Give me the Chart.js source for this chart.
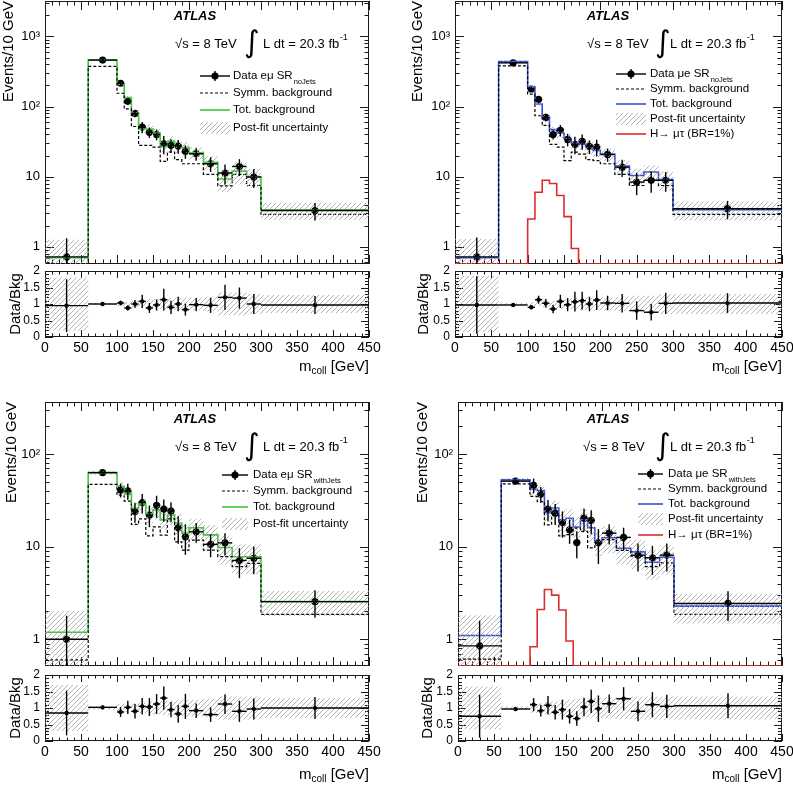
<!DOCTYPE html>
<html>
<head>
<meta charset="utf-8">
<script src="https://cdn.jsdelivr.net/npm/chart.js@4.4.1/dist/chart.umd.min.js"></script>
<style>
  body { margin: 0; background: #fff; }
  #page { position: relative; width: 793px; height: 786px; overflow: hidden; background: #fff; }
  #page canvas { position: absolute; }
</style>
</head>
<body>
<div id="page"></div>
<script>
/** Bins in m_coll [GeV]. */
const binEdges = [0, 60, 100, 110, 120, 130, 140, 150, 160, 170, 180, 190, 200, 220, 240, 260, 280, 300, 450];
const binCenters = [30, 80, 105, 115, 125, 135, 145, 155, 165, 175, 185, 195, 210, 230, 250, 270, 290, 375];

/** Tick values and labels. */
const xTicks = [0, 50, 100, 150, 200, 250, 300, 350, 400, 450];
const topLogTicks = [1, 10, 100, 1000];
const topLogLabels = ['1', '10', '10²', '10³'];
const bottomLogTicks = [1, 10, 100];
const bottomLogLabels = ['1', '10', '10²'];
const ratioTicks = [0, 0.5, 1, 1.5, 2];
const ratioLabels = ['0', '0.5', '1', '1.5', '2'];

/** e-mu SR noJets. */
const emNoJetsData = [0.72, 460, 215, 119, 80, 51, 43, 40, 29.5, 28, 27.3, 23, 21.2, 15.3, 11.3, 14, 9.9, 3.3];
const emNoJetsTot = [0.70, 462, 212, 135, 81, 48, 48, 42, 27, 32, 27, 26, 22, 16, 9.3, 12, 10, 3.35];
const emNoJetsSymm = [0.5, 375, 155, 93, 52, 28, 28, 26.5, 16.5, 22.5, 17.5, 15.3, 15.3, 10.8, 7.4, 10.8, 7.5, 2.9];
const emNoJetsUnc = [0.8, 0.03, 0.06, 0.06, 0.1, 0.1, 0.15, 0.15, 0.18, 0.18, 0.2, 0.2, 0.2, 0.22, 0.35, 0.35, 0.3, 0.27];
const emNoJetsRatio = [0.95, 1.0, 1.03, 0.88, 1.0, 1.08, 0.88, 0.97, 1.13, 0.9, 1.0, 0.83, 0.98, 0.96, 1.2, 1.18, 1.0, 0.97];
const emNoJetsRatioErr = [0.8, 0.03, 0.07, 0.08, 0.12, 0.2, 0.15, 0.17, 0.33, 0.2, 0.22, 0.18, 0.2, 0.23, 0.38, 0.32, 0.3, 0.27];

/** mu-e SR noJets. */
const meNoJetsData = [0.72, 420, 178, 127, 70, 40, 46, 34, 29, 32, 27, 26.5, 20.8, 13.7, 8.4, 8.9, 8.9, 3.5];
const meNoJetsTot = [0.70, 437, 192, 109, 70, 47, 42, 35, 30, 29, 26.5, 23.7, 20.8, 14.2, 10.4, 11.7, 9.1, 3.4];
const meNoJetsSymm = [0.5, 380, 151, 74, 54, 29, 26.5, 17, 22.4, 21, 17.5, 17, 15.3, 10.8, 7.5, 8.9, 7.5, 2.9];
const meNoJetsSignal = [0, 0, 2.5, 6, 8.9, 8, 5.4, 2.7, 0.95, 0, 0, 0, 0, 0, 0, 0, 0, 0];
const meNoJetsUnc = [0.85, 0.03, 0.05, 0.05, 0.1, 0.1, 0.15, 0.15, 0.18, 0.18, 0.2, 0.2, 0.2, 0.22, 0.25, 0.25, 0.3, 0.3];
const meNoJetsRatio = [0.97, 0.97, 0.9, 1.13, 1.02, 0.85, 1.08, 0.98, 1.07, 1.1, 1.0, 1.12, 1.03, 1.02, 0.8, 0.75, 1.02, 1.03];
const meNoJetsRatioErr = [0.87, 0.03, 0.06, 0.12, 0.13, 0.13, 0.2, 0.2, 0.3, 0.27, 0.22, 0.3, 0.22, 0.28, 0.28, 0.25, 0.32, 0.3];

/** e-mu SR withJets. */
const emJetsData = [1.0, 63, 41, 40, 24, 30, 22, 28, 25.5, 24.3, 16, 12.8, 14.5, 10.6, 11, 7.1, 7.5, 2.55];
const emJetsTot = [1.19, 63, 45, 38, 26, 29, 22.5, 25, 19.5, 22, 18, 14, 16, 13.4, 9.8, 7.8, 7.8, 2.55];
const emJetsSymm = [0.6, 47, 36, 31, 17.4, 20, 13.1, 16.4, 13.3, 20, 11.3, 9.2, 11.8, 9.2, 7.8, 6.1, 6.6, 1.86];
const emJetsUnc = [0.7, 0.05, 0.12, 0.12, 0.15, 0.15, 0.2, 0.2, 0.22, 0.22, 0.25, 0.25, 0.25, 0.28, 0.35, 0.35, 0.35, 0.3];
const emJetsRatio = [0.85, 1.02, 0.88, 1.02, 0.9, 1.05, 1.03, 1.12, 1.3, 0.95, 0.82, 1.05, 0.92, 0.8, 1.12, 0.9, 0.97, 1.0];
const emJetsRatioErr = [0.68, 0.06, 0.15, 0.2, 0.22, 0.25, 0.27, 0.3, 0.35, 0.23, 0.27, 0.38, 0.22, 0.22, 0.3, 0.32, 0.32, 0.33];

/** mu-e SR withJets. */
const meJetsData = [0.85, 51, 46, 37, 25.4, 23, 18.3, 15.2, 11.1, 20.3, 19.2, 11, 14, 12.6, 8.1, 7.6, 8.1, 2.44];
const meJetsTot = [1.1, 52.6, 41.7, 40.5, 23.3, 26.2, 19.5, 20.3, 16.3, 19.7, 16, 11.3, 12.5, 9.6, 8.8, 6.8, 7.7, 2.28];
const meJetsSymm = [0.61, 47.6, 35, 30.7, 17.2, 23, 13.1, 13.5, 15.9, 14.6, 9.7, 11.4, 11.9, 9.1, 7.9, 6.1, 6.7, 1.86];
const meJetsSignal = [0, 0, 0.83, 2.1, 3.45, 3.0, 2.07, 0.96, 0, 0, 0, 0, 0, 0, 0, 0, 0, 0];
const meJetsUnc = [0.65, 0.05, 0.15, 0.15, 0.2, 0.2, 0.25, 0.25, 0.28, 0.28, 0.3, 0.3, 0.32, 0.33, 0.35, 0.35, 0.35, 0.35];
const meJetsRatio = [0.75, 0.97, 1.1, 0.92, 1.08, 0.87, 0.95, 0.75, 0.68, 1.03, 1.2, 0.98, 1.13, 1.28, 0.9, 1.1, 1.05, 1.07];
const meJetsRatioErr = [0.65, 0.06, 0.2, 0.18, 0.28, 0.22, 0.3, 0.22, 0.22, 0.28, 0.35, 0.4, 0.28, 0.35, 0.3, 0.38, 0.35, 0.38];

const GREEN = '#3fc63a';
const BLUE = '#3650d8';
const RED = '#dd2c2c';
const FONT = '"Liberation Sans", Arial, Helvetica, sans-serif';

/** Spare room round each chart area so Chart.js keeps the area where we put it. */
const MARGIN = 22;

/** Panel layout (page pixels). */
const panels = [
  {
    left: 0, width: 396, top: 0, mainH: 266, ratioH: 134,
    areaL: 45, areaR: 369, areaT: 1, areaB: 264, rAreaT: 271, rAreaB: 337,
    yMin: 0.57, yMax: 3200, logTicks: topLogTicks, logLabels: topLogLabels,
    titlePad: 0, rTitlePad: 7, xTitleY: 367,
    data: emNoJetsData, tot: emNoJetsTot, symm: emNoJetsSymm, unc: emNoJetsUnc,
    ratio: emNoJetsRatio, ratioErr: emNoJetsRatioErr, color: GREEN,
    atlas: [195, 16], energy: [175, 244, 263, 44],
    legend: { x0: 200, x1: 230, tx: 233, rows: [76, 93, 110, 128] },
    legendText: ['Data eμ SR', 'noJets'],
  },
  {
    left: 396, width: 397, top: 0, mainH: 266, ratioH: 134,
    areaL: 455, areaR: 782, areaT: 1, areaB: 264, rAreaT: 271, rAreaB: 337,
    yMin: 0.57, yMax: 3200, logTicks: topLogTicks, logLabels: topLogLabels,
    titlePad: 13, rTitlePad: 19, xTitleY: 367,
    data: meNoJetsData, tot: meNoJetsTot, symm: meNoJetsSymm, unc: meNoJetsUnc, signal: meNoJetsSignal,
    ratio: meNoJetsRatio, ratioErr: meNoJetsRatioErr, color: BLUE,
    atlas: [212, 16], energy: [191, 259, 274, 44],
    legend: { x0: 220, x1: 250, tx: 254, rows: [74, 89, 104, 119, 134] },
    legendText: ['Data μe SR', 'noJets'],
  },
  {
    left: 0, width: 396, top: 400, mainH: 268, ratioH: 118,
    areaL: 45, areaR: 369, areaT: 402, areaB: 666, rAreaT: 675, rAreaB: 741,
    yMin: 0.515, yMax: 365, logTicks: bottomLogTicks, logLabels: bottomLogLabels,
    titlePad: 3, rTitlePad: 7, xTitleY: 775,
    data: emJetsData, tot: emJetsTot, symm: emJetsSymm, unc: emJetsUnc,
    ratio: emJetsRatio, ratioErr: emJetsRatioErr, color: GREEN,
    atlas: [195, 19], energy: [175, 244, 263, 47],
    legend: { x0: 222, x1: 248, tx: 253, rows: [75, 91, 107, 124] },
    legendText: ['Data eμ SR', 'withJets'],
  },
  {
    left: 396, width: 397, top: 400, mainH: 268, ratioH: 118,
    areaL: 458, areaR: 782, areaT: 402, areaB: 666, rAreaT: 675, rAreaB: 741,
    yMin: 0.515, yMax: 365, logTicks: bottomLogTicks, logLabels: bottomLogLabels,
    titlePad: 18, rTitlePad: 23, xTitleY: 775,
    data: meJetsData, tot: meJetsTot, symm: meJetsSymm, unc: meJetsUnc, signal: meJetsSignal,
    ratio: meJetsRatio, ratioErr: meJetsRatioErr, color: BLUE,
    atlas: [212, 19], energy: [187, 259, 274, 47],
    legend: { x0: 242, x1: 267, tx: 272, rows: [74, 89, 104, 119, 135] },
    legendText: ['Data μe SR', 'withJets'],
  },
];

/** Hatch pattern for the uncertainty band. */
function makeHatch() {
  const c = document.createElement('canvas');
  c.width = 5; c.height = 5;
  const g = c.getContext('2d');
  g.strokeStyle = '#a0a0a0';
  g.lineWidth = 0.8;
  g.beginPath();
  g.moveTo(-1, 6); g.lineTo(6, -1);
  g.moveTo(-1, 1); g.lineTo(1, -1);
  g.moveTo(4, 6); g.lineTo(6, 4);
  g.stroke();
  return g.createPattern(c, 'repeat');
}
const hatch = makeHatch();

/** Histogram points at left bin edges, closed at the last edge. */
function steps(vals) {
  const pts = vals.map((v, i) => ({ x: binEdges[i], y: v }));
  pts.push({ x: binEdges[binEdges.length - 1], y: vals[vals.length - 1] });
  return pts;
}

function newCanvas(left, top, w, h) {
  const c = document.createElement('canvas');
  c.width = w; c.height = h;
  c.style.left = left + 'px';
  c.style.top = top + 'px';
  c.style.width = w + 'px';
  c.style.height = h + 'px';
  document.getElementById('page').appendChild(c);
  return c;
}

function strokeLine(ctx, x0, y0, x1, y1) {
  ctx.beginPath();
  ctx.moveTo(x0, y0);
  ctx.lineTo(x1, y1);
  ctx.stroke();
}

/** Frame with inward ticks on all four sides, drawn under the histograms. */
function framePlugin(opts) {
  return {
    id: 'rootFrame',
    beforeDatasetsDraw(chart) {
      const { ctx, chartArea: a, scales: { x, y } } = chart;
      ctx.save();
      ctx.strokeStyle = '#1a1a1a';
      ctx.lineWidth = 1;
      ctx.strokeRect(Math.round(a.left) + 0.5, Math.round(a.top) + 0.5,
        Math.round(a.width) - 1, Math.round(a.height) - 1);
      for (let v = 0; v <= 450; v += 10) {
        const len = v % 50 === 0 ? opts.xLen[0] : opts.xLen[1];
        const px = Math.round(x.getPixelForValue(v)) + 0.5;
        strokeLine(ctx, px, a.bottom, px, a.bottom - len);
        strokeLine(ctx, px, a.top, px, a.top + len);
      }
      const yv = [];
      if (opts.log) {
        for (let e = -1; e <= 4; e++) {
          for (let m = 1; m <= 9; m++) yv.push([m * Math.pow(10, e), m === 1]);
        }
      } else {
        for (let k = 0; k <= 20; k++) yv.push([k / 10, k % 5 === 0]);
      }
      yv.forEach(([v, major]) => {
        if (v < y.min - 1e-9 || v > y.max + 1e-9) return;
        const len = major ? opts.yLen[0] : opts.yLen[1];
        const py = Math.round(y.getPixelForValue(v)) + 0.5;
        strokeLine(ctx, a.left, py, a.left + len, py);
        strokeLine(ctx, a.right, py, a.right - len, py);
      });
      ctx.restore();
    },
  };
}

/** Data points: vertical errors and horizontal bin-width bars. */
const errorBars = {
  id: 'errorBars',
  afterDatasetsDraw(chart) {
    const { ctx, chartArea: a, scales: { x, y } } = chart;
    ctx.save();
    ctx.beginPath();
    ctx.rect(a.left, a.top, a.width, a.height);
    ctx.clip();
    ctx.strokeStyle = '#000';
    ctx.lineWidth = 1.4;
    chart.data.datasets.forEach((ds) => {
      if (!ds.bars) return;
      ds.bars.forEach((b) => {
        const px = x.getPixelForValue(b.x);
        const py = y.getPixelForValue(b.y);
        strokeLine(ctx, x.getPixelForValue(b.x0), py, x.getPixelForValue(b.x1), py);
        strokeLine(ctx, px, y.getPixelForValue(b.lo), px, y.getPixelForValue(b.hi));
      });
    });
    ctx.restore();
  },
};

/** ATLAS label, energy line and legend (positions relative to the panel corner). */
function labelPlugin(p, canvasTop) {
  return {
    id: 'atlasLabel',
    afterDraw(chart) {
      const ctx = chart.ctx;
      ctx.save();
      ctx.translate(0, p.top - canvasTop);
      ctx.fillStyle = '#000';
      ctx.textBaseline = 'middle';
      ctx.textAlign = 'center';
      ctx.font = 'italic bold 13px ' + FONT;
      ctx.fillText('ATLAS', p.atlas[0], p.atlas[1]);

      ctx.textAlign = 'left';
      const [ex, ix, lx, ey] = p.energy;
      ctx.font = '13px ' + FONT;
      ctx.fillText('√s = 8 TeV', ex, ey);
      ctx.font = '30px "DejaVu Sans", sans-serif';
      ctx.fillText('∫', ix, ey);
      ctx.font = '13px ' + FONT;
      const lt = 'L dt = 20.3 fb';
      ctx.fillText(lt, lx, ey);
      const lw = ctx.measureText(lt).width;
      ctx.font = '9px ' + FONT;
      ctx.fillText('-1', lx + lw + 0.5, ey - 6);

      const L = p.legend;
      const cx = (L.x0 + L.x1) / 2;
      const items = [
        { kind: 'data', text: p.legendText[0], sub: p.legendText[1] },
        { kind: 'dash', text: 'Symm. background' },
        { kind: 'line', color: p.color, text: 'Tot. background' },
        { kind: 'hatch', text: 'Post-fit uncertainty' },
      ];
      if (p.signal) items.push({ kind: 'line', color: RED, text: 'H\u2192 μτ (BR=1%)' });
      items.forEach((it, k) => {
        const y = L.rows[k];
        ctx.save();
        if (it.kind === 'data') {
          ctx.strokeStyle = '#000';
          ctx.lineWidth = 1.4;
          strokeLine(ctx, L.x0, y, L.x1, y);
          strokeLine(ctx, cx, y - 5, cx, y + 5);
          ctx.beginPath();
          ctx.arc(cx, y, 3.6, 0, Math.PI * 2);
          ctx.fill();
        } else if (it.kind === 'dash') {
          ctx.strokeStyle = '#000';
          ctx.lineWidth = 1.2;
          ctx.setLineDash([3, 2]);
          strokeLine(ctx, L.x0, y, L.x1, y);
        } else if (it.kind === 'line') {
          ctx.strokeStyle = it.color;
          ctx.lineWidth = 1.6;
          strokeLine(ctx, L.x0, y, L.x1, y);
        } else {
          ctx.fillStyle = hatch;
          ctx.fillRect(L.x0, y - 6, L.x1 - L.x0, 12);
        }
        ctx.restore();
        ctx.font = '11.5px ' + FONT;
        ctx.fillText(it.text, L.tx, y);
        if (it.sub) {
          const w = ctx.measureText(it.text).width;
          ctx.font = '7.5px ' + FONT;
          ctx.fillText(it.sub, L.tx + w + 1, y + 6);
        }
      });
      ctx.restore();
    },
  };
}

/** x-axis title with subscript. */
function xTitlePlugin(p, canvasTop) {
  return {
    id: 'xTitle',
    afterDraw(chart) {
      const ctx = chart.ctx;
      const right = chart.chartArea.right;
      const ty = p.xTitleY - canvasTop;
      ctx.save();
      ctx.fillStyle = '#000';
      ctx.textBaseline = 'middle';
      ctx.textAlign = 'left';
      ctx.font = '15px ' + FONT;
      const wm = ctx.measureText('m').width;
      const wg = ctx.measureText(' [GeV]').width;
      ctx.font = '10px ' + FONT;
      const ws = ctx.measureText('coll').width;
      const x0 = right - wm - ws - wg;
      ctx.font = '15px ' + FONT;
      ctx.fillText('m', x0, ty);
      ctx.fillText(' [GeV]', x0 + wm + ws, ty);
      ctx.font = '10px ' + FONT;
      ctx.fillText('coll', x0 + wm, ty + 4);
      ctx.restore();
    },
  };
}

function pickTicks(values) {
  return (scale) => { scale.ticks = values.map((v) => ({ value: v })); };
}

function mainChart(p) {
  const top = p.areaT - MARGIN;
  const h = p.areaB - p.areaT + 2 * MARGIN;
  const w = p.width + MARGIN;
  const canvas = newCanvas(p.left, top, w, h);
  const toPos = (v) => (v > 0 ? v : p.yMin);
  const upper = p.tot.map((v, i) => v * (1 + p.unc[i]));
  const lower = p.tot.map((v, i) => Math.max(v * (1 - p.unc[i]), p.yMin * 0.1));
  const bars = p.data.map((d, i) => {
    const rel = p.ratioErr[i] / p.ratio[i];
    return {
      x: binCenters[i], y: d, x0: binEdges[i], x1: binEdges[i + 1],
      lo: Math.max(d * (1 - rel), p.yMin * 0.1), hi: d * (1 + rel),
    };
  });
  const line = { pointRadius: 0, fill: false, stepped: true };
  const datasets = [
    { ...line, data: steps(upper), fill: '+1', backgroundColor: hatch, borderWidth: 0 },
    { ...line, data: steps(lower), borderWidth: 0 },
    { ...line, data: steps(p.symm), borderColor: '#000', borderWidth: 1.2, borderDash: [3, 2] },
  ];
  if (p.signal) {
    datasets.push({ ...line, data: steps(p.signal.map(toPos)), borderColor: RED, borderWidth: 1.6 });
  }
  datasets.push({ ...line, data: steps(p.tot), borderColor: p.color, borderWidth: 1.6 });
  datasets.push({
    data: p.data.map((d, i) => ({ x: binCenters[i], y: d })),
    showLine: false, pointRadius: 3.6, pointBackgroundColor: '#000', pointBorderWidth: 0, bars,
  });

  return new Chart(canvas.getContext('2d'), {
    type: 'line',
    data: { datasets },
    options: {
      responsive: false,
      animation: false,
      events: [],
      devicePixelRatio: 1,
      layout: {
        padding: { left: 0, top: MARGIN, right: p.left + w - p.areaR, bottom: MARGIN },
      },
      plugins: { legend: { display: false }, tooltip: { enabled: false } },
      scales: {
        x: { type: 'linear', min: 0, max: 450, display: false },
        y: {
          type: 'logarithmic',
          min: p.yMin,
          max: p.yMax,
          grid: { display: false, drawTicks: false },
          border: { display: false },
          afterBuildTicks: pickTicks(p.logTicks),
          afterFit: (s) => { s.width = p.areaL - p.left; },
          ticks: {
            autoSkip: false,
            padding: 5,
            color: '#000',
            font: { family: FONT, size: 13 },
            callback: (v) => p.logLabels[p.logTicks.indexOf(v)],
          },
          title: {
            display: true,
            text: 'Events/10 GeV',
            align: 'end',
            color: '#000',
            font: { family: FONT, size: 15 },
            padding: { top: p.titlePad, bottom: 0 },
          },
        },
      },
    },
    plugins: [errorBars, framePlugin({ log: true, xLen: [9, 4.5], yLen: [9, 4.5] }), labelPlugin(p, top)],
  });
}

function ratioChart(p) {
  const top = p.rAreaT - MARGIN;
  const bottom = p.top + p.mainH + p.ratioH;
  const w = p.width + MARGIN;
  const canvas = newCanvas(p.left, top, w, bottom - top);
  const bars = p.ratio.map((r, i) => ({
    x: binCenters[i], y: r, x0: binEdges[i], x1: binEdges[i + 1],
    lo: r - p.ratioErr[i], hi: r + p.ratioErr[i],
  }));
  const line = { pointRadius: 0, fill: false, stepped: true, borderWidth: 0 };
  return new Chart(canvas.getContext('2d'), {
    type: 'line',
    data: {
      datasets: [
        { ...line, data: steps(p.unc.map((u) => 1 + u)), fill: '+1', backgroundColor: hatch },
        { ...line, data: steps(p.unc.map((u) => 1 - u)) },
        {
          data: p.ratio.map((r, i) => ({ x: binCenters[i], y: r })),
          showLine: false, pointRadius: 2.2, pointBackgroundColor: '#000', pointBorderWidth: 0, bars,
        },
      ],
    },
    options: {
      responsive: false,
      animation: false,
      events: [],
      devicePixelRatio: 1,
      layout: {
        padding: { left: 0, top: MARGIN, right: p.left + w - p.areaR, bottom: 0 },
      },
      plugins: { legend: { display: false }, tooltip: { enabled: false } },
      scales: {
        x: {
          type: 'linear',
          min: 0,
          max: 450,
          grid: { display: false, drawTicks: false },
          border: { display: false },
          afterBuildTicks: pickTicks(xTicks),
          afterFit: (s) => { s.height = bottom - p.rAreaB; },
          ticks: {
            autoSkip: false,
            maxRotation: 0,
            padding: 3,
            color: '#000',
            font: { family: FONT, size: 14 },
            callback: (v) => String(v),
          },
        },
        y: {
          type: 'linear',
          min: 0,
          max: 2,
          grid: { display: false, drawTicks: false },
          border: { display: false },
          afterBuildTicks: pickTicks(ratioTicks),
          afterFit: (s) => { s.width = p.areaL - p.left; },
          ticks: {
            autoSkip: false,
            padding: 5,
            color: '#000',
            font: { family: FONT, size: 12 },
            callback: (v) => ratioLabels[ratioTicks.indexOf(v)],
          },
          title: {
            display: true,
            text: 'Data/Bkg',
            color: '#000',
            font: { family: FONT, size: 15 },
            padding: { top: p.rTitlePad, bottom: 0 },
          },
        },
      },
    },
    plugins: [errorBars, framePlugin({ log: false, xLen: [7, 3.5], yLen: [8, 4] }), xTitlePlugin(p, top)],
  });
}

panels.forEach((p) => {
  mainChart(p);
  ratioChart(p);
});
</script>
</body>
</html>
